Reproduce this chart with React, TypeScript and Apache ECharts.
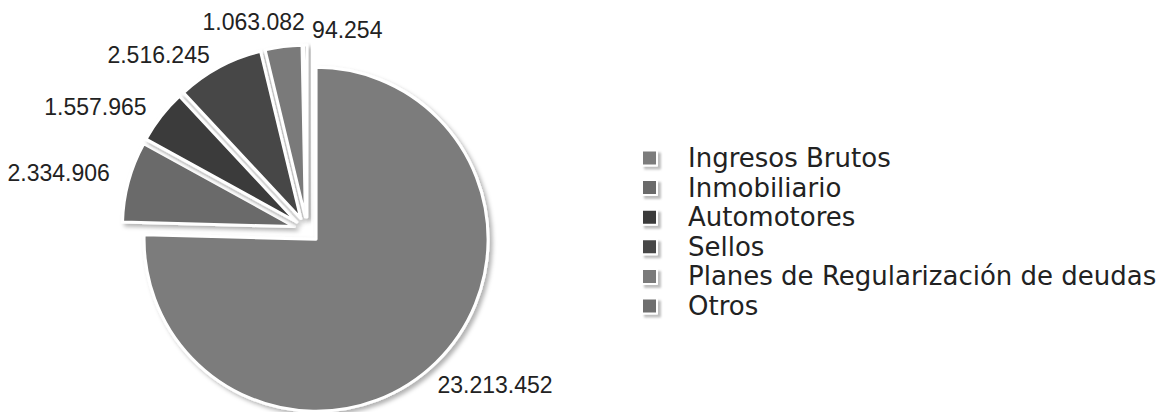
import React, { useEffect, useRef } from "react";
import * as echarts from "echarts";

const categories = [
  "Ingresos Brutos",
  "Inmobiliario",
  "Automotores",
  "Sellos",
  "Planes de Regularización de deudas",
  "Otros",
];
const values = [23213452, 2334906, 1557965, 2516245, 1063082, 94254];
const colors = ["#7b7b7b", "#6a6a6a", "#3a3a3a", "#464646", "#7a7a7a", "#6e6e6e"];

// small label nudges (style only) so labels sit like the reference
const labelNudges = [
  [-16, 14],
  [2, -5],
  [4, -2],
  [5, -1],
  [32, -13],
  [16, -3],
];
const labelAligns = [null, null, null, null, null, "left"];

const fmt = (v: number) => String(v).replace(/\B(?=(\d{3})+(?!\d))/g, ".");

export default function App() {
  const ref = useRef<HTMLDivElement>(null);
  useEffect(() => {
    if (!ref.current) return;
    const chart = echarts.init(ref.current, undefined, { renderer: "svg" });
    chart.setOption({
      animation: false,
      backgroundColor: "#ffffff",
      color: colors,
      legend: {
        orient: "vertical",
        left: 636,
        top: 140,
        itemWidth: 15,
        itemHeight: 15,
        itemGap: 3.6,
        icon: "rect",
        selectedMode: false,
        itemStyle: {
          shadowColor: "rgba(0,0,0,0.25)",
          shadowBlur: 2,
          shadowOffsetX: 3,
          shadowOffsetY: 3,
        },
        textStyle: {
          fontFamily: "DejaVu Sans",
          fontSize: 26,
          lineHeight: 25,
          color: "#222222",
          padding: [0, 0, 0, 26],
        },
        data: categories,
      },
      series: [
        {
          type: "pie",
          center: [307, 230],
          radius: 172,
          startAngle: 90,
          clockwise: true,
          selectedMode: "multiple",
          selectedOffset: 13,
          avoidLabelOverlap: false,
          emphasis: { disabled: true },
          itemStyle: {
            borderColor: "#ffffff",
            borderWidth: 3,
            shadowColor: "rgba(0,0,0,0.3)",
            shadowBlur: 4,
            shadowOffsetX: 3,
            shadowOffsetY: 3,
          },
          label: {
            show: true,
            position: "outside",
            formatter: (p: any) => fmt(p.value),
            fontFamily: "Liberation Sans",
            fontSize: 23,
            color: "#222222",
          },
          labelLine: { show: false, length: 12, length2: 4 },
          labelLayout: (p: any) => {
            const i = p.dataIndex;
            const out: any = { dx: labelNudges[i][0], dy: labelNudges[i][1] };
            if (labelAligns[i]) out.align = labelAligns[i];
            return out;
          },
          data: categories.map((name, i) => ({
            name,
            value: values[i],
            selected: true,
          })),
        },
      ],
    });
    return () => chart.dispose();
  }, []);
  return (
    <div
      ref={ref}
      style={{ position: "fixed", left: 0, top: 0, width: 1167, height: 412 }}
    />
  );
}
